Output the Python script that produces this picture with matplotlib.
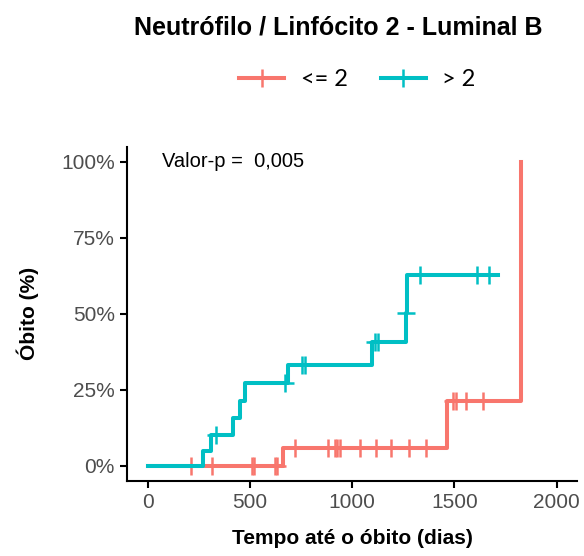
import numpy as np
import matplotlib.pyplot as plt
from matplotlib.ticker import FuncFormatter

plt.rcParams['font.family'] = ['Liberation Sans', 'DejaVu Sans']

# curva "<= 2"
baixo_t = [0, 662, 1464, 1827]
baixo_y = [0.0, 0.06, 0.212, 1.0]
baixo_cens_t = [209, 316, 510, 520, 622, 632, 719, 880, 915, 925, 940, 1037, 1118,
                1191, 1278, 1363, 1493, 1506, 1555, 1640]
baixo_cens_y = [0.0, 0.0, 0.0, 0.0, 0.0, 0.0, 0.06, 0.06, 0.06, 0.06, 0.06, 0.06, 0.06,
                0.06, 0.06, 0.06, 0.212, 0.212, 0.212, 0.212]

# curva "> 2"
alto_t = [0, 271, 311, 417, 450, 474, 685, 1095, 1262, 1268, 1711]
alto_y = [0.0, 0.05, 0.102, 0.157, 0.212, 0.273, 0.332, 0.406, 0.503, 0.628, 0.628]
alto_cens_t = [335, 670, 753, 768, 1110, 1125, 1265, 1333, 1612, 1667]
alto_cens_y = [0.102, 0.273, 0.332, 0.332, 0.406, 0.406, 0.503, 0.628, 0.628, 0.628]

vermelho = '#F8766D'
azul = '#00BFC4'

fig = plt.figure(figsize=(5.84, 5.56), dpi=100)
ax = fig.add_axes([0.2183, 0.1349, 0.7697, 0.6013])

ax.step(baixo_t, baixo_y, where='post', color=vermelho, lw=2.9)
ax.plot(baixo_cens_t, baixo_cens_y, ls='none', marker='+', ms=13, mew=1.8, color=vermelho)
ax.step(alto_t, alto_y, where='post', color=azul, lw=2.9)
ax.plot(alto_cens_t, alto_cens_y, ls='none', marker='+', ms=13, mew=1.8, color=azul)

ax.set_xlim(-100, 2100)
ax.set_ylim(-0.05, 1.05)
ax.set_xticks([0, 500, 1000, 1500, 2000])
ax.set_yticks([0, 0.25, 0.5, 0.75, 1.0])
ax.yaxis.set_major_formatter(FuncFormatter(lambda v, p: f'{v*100:.0f}%'))

for s in ['top', 'right']:
    ax.spines[s].set_visible(False)
for s in ['left', 'bottom']:
    ax.spines[s].set_linewidth(1.5)
ax.tick_params(width=1.5, length=5, labelsize=15, labelcolor='#4d4d4d', pad=4)

ax.set_xlabel('Tempo até o óbito (dias)', fontsize=15, fontweight='bold', labelpad=12)
ax.set_ylabel('Óbito (%)', fontsize=15, fontweight='bold', labelpad=16)

ax.text(70, 1.0, 'Valor-p =  0,005', fontsize=14.5, va='center')

fig.text(0.58, 0.95, 'Neutrófilo / Linfócito 2 - Luminal B', fontsize=18,
         fontweight='bold', ha='center', va='center')

h1, = ax.plot([], [], color=vermelho, lw=2.9, marker='+', ms=13, mew=1.8)
h2, = ax.plot([], [], color=azul, lw=2.9, marker='+', ms=13, mew=1.8)
fig.legend([h1, h2], ['<= 2', '> 2'], loc='center', bbox_to_anchor=(0.612, 0.857),
           ncol=2, frameon=False, handlelength=1.9, columnspacing=1.4,
           handletextpad=0.7, prop={'family': 'Lato', 'size': 17})

fig.savefig('out.png', dpi=100)
